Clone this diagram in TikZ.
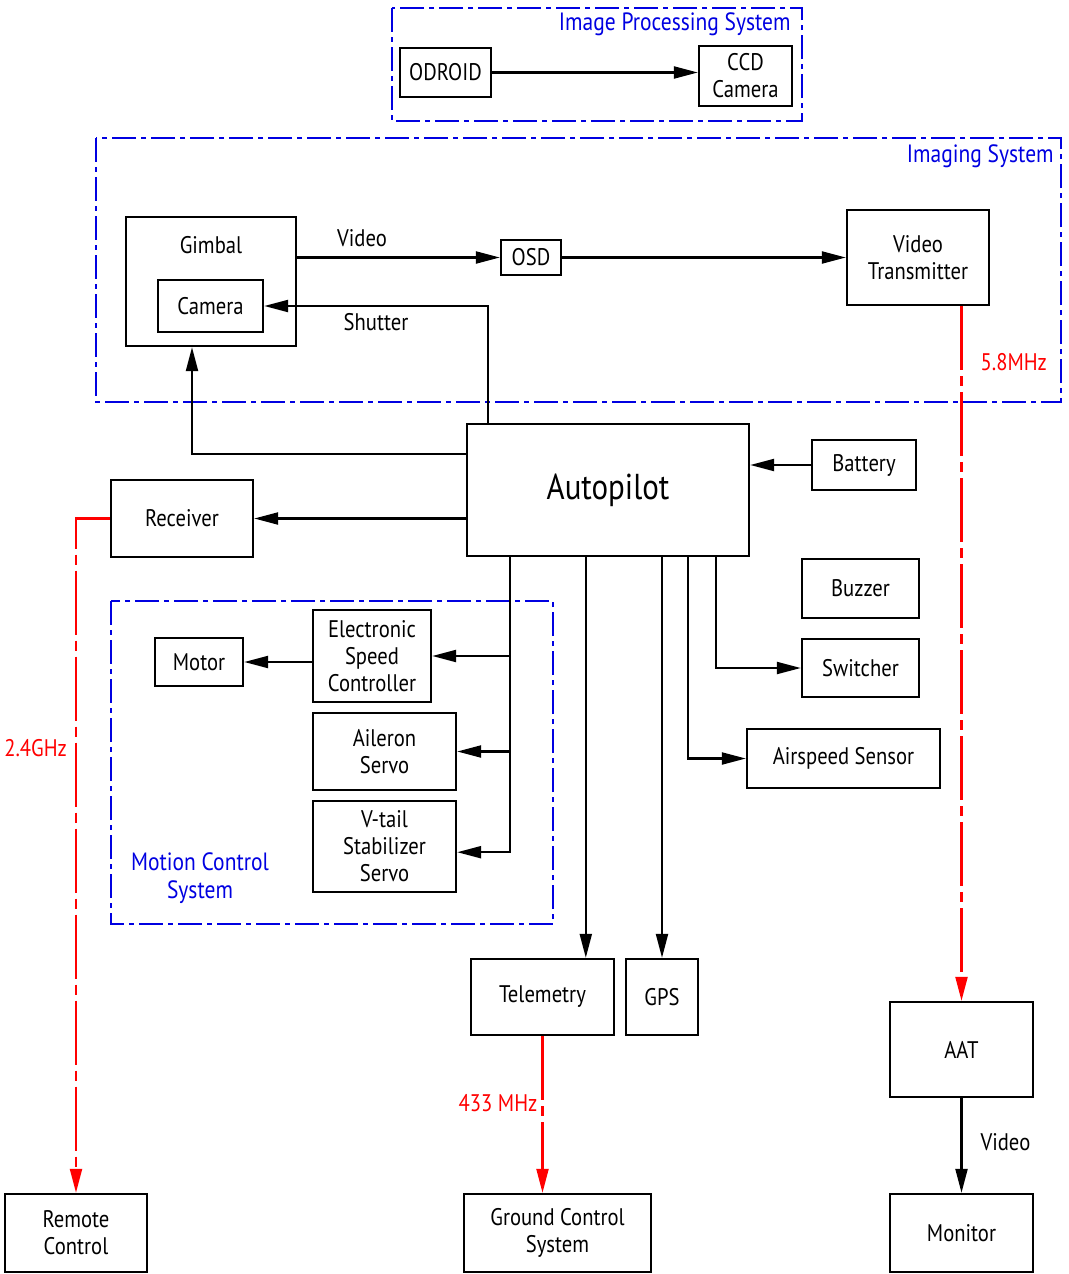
\documentclass[tikz,border=0pt]{standalone}
\usepackage{fontspec}
\setmainfont{PT Sans}[FakeStretch=0.86]
\usetikzlibrary{arrows.meta,calc}
\definecolor{grpblue}{RGB}{0,0,225}
\definecolor{radiored}{RGB}{255,0,0}
\tikzset{
  uavblock/.style={draw, line width=1.2pt, inner sep=2pt, align=center, font=\fontsize{12}{13.5}\selectfont},
  uavarrow/.style={-{Triangle[length=12pt,width=6pt]}, line width=1.1pt},
  uavradio/.style={-{Triangle[length=12pt,width=6pt]}, line width=1.1pt, radiored, dash pattern=on 32pt off 3pt on 5pt off 3pt},
  uavgroup/.style={draw=grpblue, line width=1pt, dash pattern=on 12pt off 2.5pt on 2.5pt off 2.5pt},
  uavgrouplabel/.style={text=grpblue, align=center, inner sep=1pt, font=\fontsize{12.5}{14}\selectfont},
  uavtag/.style={inner sep=1pt, font=\fontsize{12}{13.5}\selectfont},
  uavfreq/.style={text=radiored, inner sep=1pt, font=\fontsize{12}{13.5}\selectfont}
}

\begin{document}
\begin{tikzpicture}[x=0.5pt, y=-0.5pt]
\useasboundingbox (0,0) rectangle (1069,1274);
% group frames
\draw[uavgroup] (392,8) rectangle (802,121);
\node[uavgrouplabel, anchor=east] (ipslabel) at (793,24) {Image Processing System};
\draw[uavgroup] (96,138) rectangle (1061,402);
\node[uavgrouplabel, anchor=east] (imglabel) at (1056,156) {Imaging System};
\draw[uavgroup] (111,601) rectangle (553,924);
\node[uavgrouplabel] (mcslabel) at (200,878) {Motion Control\\System};
% blocks
\node[uavblock, minimum width=45.5pt, minimum height=24.5pt] (odroid) at (445.5,72.5) {ODROID};
\node[uavblock, minimum width=46.5pt, minimum height=30pt] (ccd) at (745.5,76) {CCD\\Camera};
\node[uavblock, minimum width=85pt, minimum height=64.5pt, label={[uavtag, anchor=north, yshift=-9pt]north:Gimbal}] (gimbal) at (211,281.5) {};
\node[uavblock, minimum width=52.5pt, minimum height=26pt] (camera) at (210.5,306) {Camera};
\node[uavblock, minimum width=30pt, minimum height=17.5pt] (osd) at (531,257.5) {OSD};
\node[uavblock, minimum width=71pt, minimum height=47.5pt] (vtx) at (918,257.5) {Video\\Transmitter};
\node[uavblock, minimum width=141pt, minimum height=66pt, font=\fontsize{18}{20}\selectfont] (autopilot) at (608,490) {Autopilot};
\node[uavblock, minimum width=52pt, minimum height=25pt] (battery) at (864,465) {Battery};
\node[uavblock, minimum width=71pt, minimum height=38.5pt] (receiver) at (182,518.5) {Receiver};
\node[uavblock, minimum width=59pt, minimum height=46pt] (esc) at (372,656) {Electronic\\Speed\\Controller};
\node[uavblock, minimum width=44pt, minimum height=24pt] (motor) at (199,662) {Motor};
\node[uavblock, minimum width=71.5pt, minimum height=38.5pt] (aileron) at (384.5,751.5) {Aileron\\Servo};
\node[uavblock, minimum width=71.5pt, minimum height=45.5pt] (vtail) at (384.5,846.5) {V-tail\\Stabilizer\\Servo};
\node[uavblock, minimum width=58.5pt, minimum height=29.5pt] (buzzer) at (860.5,588.5) {Buzzer};
\node[uavblock, minimum width=58.5pt, minimum height=29pt] (switcher) at (860.5,668) {Switcher};
\node[uavblock, minimum width=96.5pt, minimum height=29.5pt] (airspeed) at (843.5,758.5) {Airspeed Sensor};
\node[uavblock, minimum width=71.5pt, minimum height=38pt] (telemetry) at (542.5,997) {Telemetry};
\node[uavblock, minimum width=36pt, minimum height=38pt] (gps) at (662,997) {GPS};
\node[uavblock, minimum width=71.5pt, minimum height=47.5pt] (aat) at (961.5,1049.5) {AAT};
\node[uavblock, minimum width=71.5pt, minimum height=39pt] (monitor) at (961.5,1233) {Monitor};
\node[uavblock, minimum width=71pt, minimum height=39pt] (remote) at (76,1233) {Remote\\Control};
\node[uavblock, minimum width=93.5pt, minimum height=39pt] (gcs) at (557.5,1233) {Ground Control\\System};
% helper points
\coordinate (shut) at ($(autopilot.north west)+(22,0)$);
\coordinate (gimin) at ($(gimbal.south)+(-19,0)$);
\coordinate (apleft) at ($(autopilot.north west)+(0,31)$);
\coordinate (bus) at ($(autopilot.south west)+(44,0)$);
\coordinate (busend) at ($(bus)+(0,295)$);
\coordinate (tmout) at ($(autopilot.south west)+(120,0)$);
\coordinate (asout) at ($(autopilot.south west)+(222,0)$);
\coordinate (swout) at ($(autopilot.south west)+(250,0)$);
% connectors
\draw[uavarrow] (odroid.east) -- (odroid.east -| ccd.west);
\draw[uavarrow] (gimbal.east |- osd) -- node[uavtag, above=4pt, pos=0.32] {Video} (osd.west);
\draw[uavarrow] (osd.east) -- (vtx.west |- osd);
\draw[uavarrow] (shut) |- node[uavtag, below=2pt, pos=0.75] {Shutter} (camera.east);
\draw[uavarrow] (apleft) -| (gimin);
\draw[uavarrow] (autopilot.west |- receiver) -- (receiver.east);
\draw[uavarrow] (battery.west) -- (battery.west -| autopilot.east);
\draw[uavarrow] (bus) -- (busend) -- (busend -| vtail.east);
\draw[uavarrow] (bus |- esc) -- (esc.east);
\draw[uavarrow] (bus |- aileron) -- (aileron.east);
\draw[uavarrow] (esc.west |- motor) -- (motor.east);
\draw[uavarrow] (tmout) -- (tmout |- telemetry.north);
\draw[uavarrow] (autopilot.south -| gps) -- (gps.north);
\draw[uavarrow] (asout) |- (airspeed.west);
\draw[uavarrow] (swout) |- (switcher.west);
\draw[uavarrow] (aat) -- node[uavtag, right=8pt, pos=0.46] {Video} (monitor);
% radio links
\draw[uavradio] (vtx.south -| aat) -- node[uavfreq, right=8pt, pos=0.08] {5.8MHz} (aat.north);
\draw[uavradio] (receiver.west) -| node[uavfreq, left=3pt, pos=0.67] {2.4GHz} (remote.north);
\draw[uavradio] (telemetry.south) -- node[uavfreq, left=1pt, pos=0.43] {433 MHz} (telemetry.south |- gcs.north);
\end{tikzpicture}
\end{document}
